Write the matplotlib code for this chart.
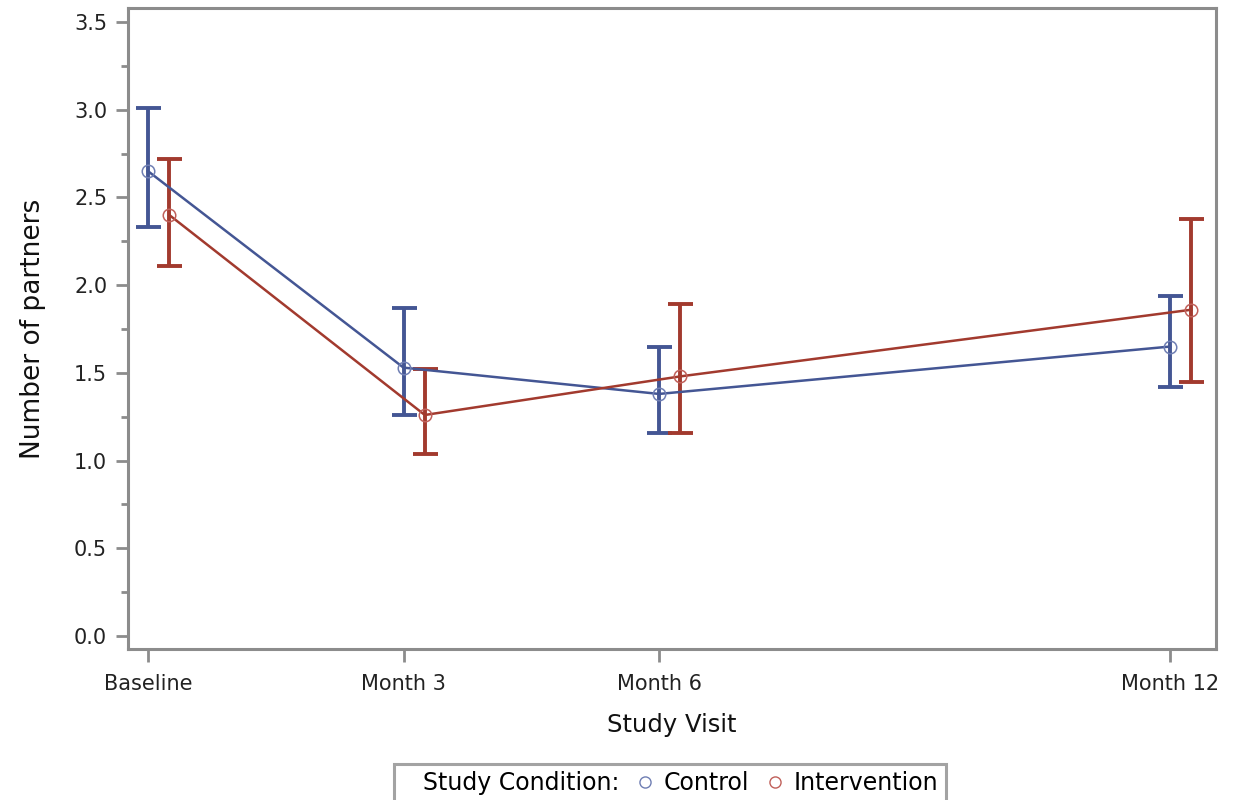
import matplotlib
matplotlib.use("Agg")
import matplotlib.pyplot as plt
from matplotlib.lines import Line2D
from matplotlib.ticker import MultipleLocator

plt.rcParams['font.family'] = ['DejaVu Sans']

# data
visits = ["Baseline", "Month 3", "Month 6", "Month 12"]
months = [0, 3, 6, 12]

control_mean = [2.65, 1.53, 1.38, 1.65]
control_low = [2.33, 1.26, 1.16, 1.42]
control_high = [3.01, 1.87, 1.65, 1.94]

interv_mean = [2.40, 1.26, 1.48, 1.86]
interv_low = [2.11, 1.04, 1.16, 1.45]
interv_high = [2.72, 1.52, 1.89, 2.38]

offset = 0.25  # intervention is shifted right of the tick

blue_line = '#445694'
blue_mark = '#6F7EB3'
red_line = '#A23A2E'
red_mark = '#C0605A'
frame = '#8C8C8C'

fig = plt.figure(figsize=(12.36, 8), dpi=100)
ax = fig.add_axes([128/1236, 1-649/800, (1216-128)/1236, (649-8)/800])

def series(xs, mean, low, high, lc, mc):
    err = [[m - l for m, l in zip(mean, low)], [h - m for m, h in zip(mean, high)]]
    ax.errorbar(xs, mean, yerr=err, fmt='none', ecolor=lc, elinewidth=2.8,
                capsize=9, capthick=2.8, zorder=3)
    ax.plot(xs, mean, color=lc, lw=1.8, zorder=4)
    ax.plot(xs, mean, 'o', mfc='none', mec=mc, ms=9, mew=1.1, zorder=5)

series(months, control_mean, control_low, control_high, blue_line, blue_mark)
series([m + offset for m in months], interv_mean, interv_low, interv_high, red_line, red_mark)

ax.set_xlim(-0.235, 12.54)
ax.set_ylim(-0.074, 3.58)
ax.set_xticks(months)
ax.set_xticklabels(visits)
ax.yaxis.set_major_locator(MultipleLocator(0.5))
ax.yaxis.set_minor_locator(MultipleLocator(0.25))
ax.yaxis.set_major_formatter(matplotlib.ticker.FormatStrFormatter('%.1f'))

for s in ax.spines.values():
    s.set_color(frame)
    s.set_linewidth(2.2)
ax.tick_params(axis='both', which='major', length=9, width=2.0, color=frame,
               labelsize=15, labelcolor='#222222', pad=6)
ax.tick_params(axis='x', which='major', pad=9)
ax.tick_params(axis='y', which='minor', length=5, width=2.0, color=frame)
ax.tick_params(axis='x', which='minor', length=0)

ax.set_xlabel("Study Visit", fontsize=17.5, color='#111111', labelpad=14)
ax.set_ylabel("Number of partners", fontsize=19, color='#111111', labelpad=20)

handles = [
    Line2D([], [], linestyle='none'),
    Line2D([], [], linestyle='none', marker='o', mfc='none', mec=blue_mark, ms=8, mew=1),
    Line2D([], [], linestyle='none', marker='o', mfc='none', mec=red_mark, ms=8, mew=1),
]
labels = ["Study Condition:", "Control", "Intervention"]
leg = fig.legend(handles, labels, ncol=3, loc='upper center',
                 bbox_to_anchor=(670/1236, 1-764/800), fontsize=17,
                 frameon=True, fancybox=False, handlelength=0.2,
                 handletextpad=0.7, columnspacing=1.0, borderpad=0.3,
                 borderaxespad=0)
leg.get_frame().set_edgecolor(frame)
leg.get_frame().set_linewidth(2.2)

fig.savefig("out.png", dpi=100)
